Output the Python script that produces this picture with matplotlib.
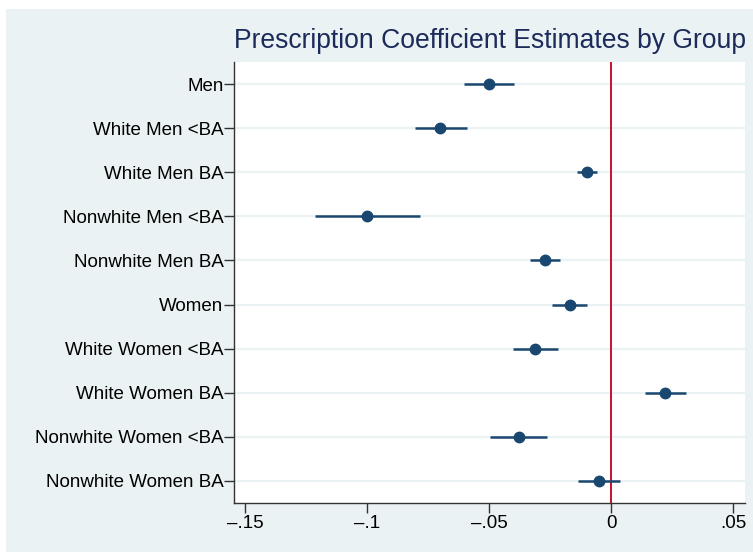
import numpy as np
import matplotlib.pyplot as plt
from matplotlib.patches import Rectangle

plt.rcParams['font.family'] = ['Liberation Sans', 'DejaVu Sans']

# coefficient estimates with 95% confidence bounds
groups = ['Men', 'White Men <BA', 'White Men BA', 'Nonwhite Men <BA',
          'Nonwhite Men BA', 'Women', 'White Women <BA', 'White Women BA',
          'Nonwhite Women <BA', 'Nonwhite Women BA']
coef = [-0.0500, -0.0699, -0.0100, -0.1000, -0.0272,
        -0.0170, -0.0310, 0.0223, -0.0378, -0.0051]
ci_lo = [-0.0601, -0.0805, -0.0141, -0.1214, -0.0330,
         -0.0240, -0.0400, 0.0139, -0.0496, -0.0134]
ci_hi = [-0.0398, -0.0591, -0.0057, -0.0784, -0.0211,
         -0.0100, -0.0216, 0.0309, -0.0261, 0.0035]

xticks = [-0.15, -0.10, -0.05, 0.0, 0.05]
xticklabels = ['\u2013.15', '\u2013.1', '\u2013.05', '0', '.05']

navy = '#1A476F'
bg = '#EAF2F3'

fig = plt.figure(figsize=(7.53, 5.52), dpi=100)
fig.patch.set_facecolor('white')
fig.add_artist(Rectangle((6 / 753, 0), 1, (552 - 9) / 552,
                         transform=fig.transFigure, facecolor=bg,
                         edgecolor='none', zorder=-10))

ax = fig.add_axes([234 / 753, 1 - 503 / 552, 511 / 753, 441 / 552])
ax.set_facecolor('white')

y = np.arange(1, len(groups) + 1)
for yi in y:
    ax.axhline(yi, color=bg, lw=1.6, zorder=0)

ax.hlines(y, ci_lo, ci_hi, color=navy, lw=1.8, zorder=2)
ax.plot(coef, y, 'o', color=navy, ms=7.5, zorder=3)
ax.axvline(0, color='#C8102E', lw=1.4, zorder=1)

ax.set_ylim(len(groups) + 0.5, 0.5)
ax.set_xlim(-0.1545, 0.0549)
ax.set_yticks(y)
ax.set_yticklabels(groups, fontsize=13.5)
ax.set_xticks(xticks)
ax.set_xticklabels(xticklabels, fontsize=13.5)
ax.tick_params(direction='out', length=7, width=1, color='#333333', pad=2)
ax.tick_params(axis='y', pad=0.5)

for side in ['top', 'right']:
    ax.spines[side].set_visible(False)
for side in ['left', 'bottom']:
    ax.spines[side].set_color('#333333')
    ax.spines[side].set_linewidth(1)

fig.text(490 / 753, 1 - 48 / 552, 'Prescription Coefficient Estimates by Group',
         ha='center', va='baseline', fontsize=19.1, color='#1C2B5A')

fig.savefig('out.png', dpi=100)
